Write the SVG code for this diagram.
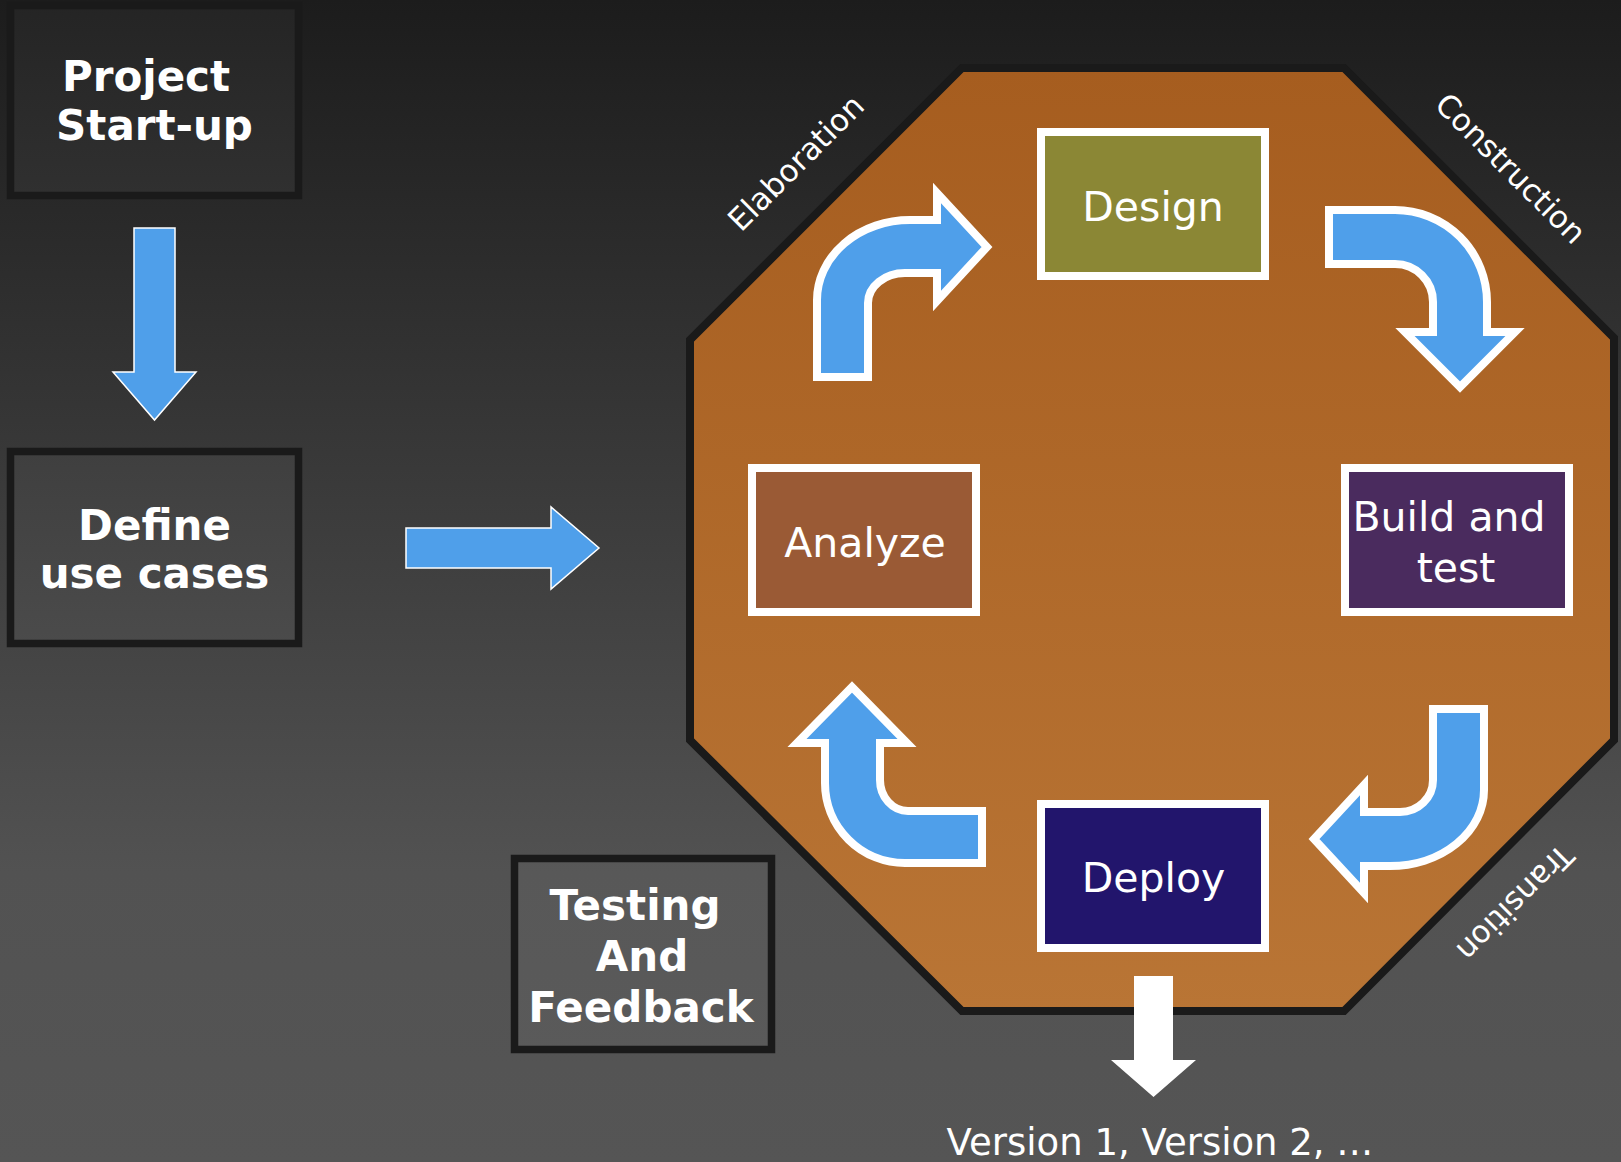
<svg xmlns="http://www.w3.org/2000/svg" width="1621" height="1162" viewBox="0 0 1621 1162">
  <defs>
    <linearGradient id="bg" x1="0" y1="0" x2="0" y2="1">
      <stop offset="0" stop-color="#1c1c1c"/>
      <stop offset="0.75" stop-color="#525252"/>
      <stop offset="1" stop-color="#555555"/>
    </linearGradient>
    <linearGradient id="octFill" x1="0" y1="0" x2="0" y2="1">
      <stop offset="0" stop-color="#a65d1f"/>
      <stop offset="1" stop-color="#b97535"/>
    </linearGradient>
    <style>
      .step { fill: #ffffff; fill-opacity: 0.04; stroke: #1a1a1a; stroke-width: 7.5; }
      .stepText { font-family: "DejaVu Sans", Verdana, sans-serif; font-weight: bold; font-size: 42px; fill: #ffffff; text-anchor: middle; }
      .phase { fill: #ffffff; stroke: #ffffff; stroke-width: 8; }
      .phaseText { font-family: "DejaVu Sans", Verdana, sans-serif; font-size: 41px; fill: #ffffff; text-anchor: middle; }
      .edgeLabel { font-family: "DejaVu Sans", Verdana, sans-serif; font-size: 31px; fill: #ffffff; text-anchor: middle; }
      .flat { fill: #4f9fea; stroke: #ffffff; stroke-width: 1.5; stroke-linejoin: miter; }
      .bent { fill: #4f9fea; stroke: #ffffff; stroke-width: 8; stroke-linejoin: miter; stroke-miterlimit: 10; }
    </style>
  </defs>

  <!-- background -->
  <rect x="0" y="0" width="1621" height="1162" fill="url(#bg)"/>

  <!-- iteration octagon -->
  <g id="iteration-cycle">
    <polygon points="962,68 1344,68 1614,338 1614,740 1344,1011 962,1011 690,740 690,340"
             fill="url(#octFill)" stroke="#1a1a1a" stroke-width="8"/>
    <text class="edgeLabel" transform="translate(803.5 170.5) rotate(-45)">Elaboration</text>
    <text class="edgeLabel" transform="translate(1503 176) rotate(45)">Construction</text>
    <text class="edgeLabel" transform="translate(1507.5 895.5) rotate(135)">Transition</text>
  </g>

  <!-- left-hand steps -->
  <g id="project-startup">
    <rect class="step" x="10.5" y="5.5" width="288" height="190"/>
    <text class="stepText" x="146" y="91">Project</text>
    <text class="stepText" x="154.5" y="140">Start-up</text>
  </g>
  <g id="define-use-cases">
    <rect class="step" x="10.5" y="451.5" width="288" height="192"/>
    <text class="stepText" x="154.5" y="540">Define</text>
    <text class="stepText" x="154.5" y="588">use cases</text>
  </g>
  <g id="testing-feedback">
    <rect class="step" x="514.5" y="858.5" width="257" height="191"/>
    <text class="stepText" x="635" y="920">Testing</text>
    <text class="stepText" x="642" y="971">And</text>
    <text class="stepText" x="641" y="1022">Feedback</text>
  </g>

  <!-- phases inside the cycle -->
  <g id="design">
    <rect class="phase" x="1041" y="132" width="224" height="144" style="fill:#8b8735"/>
    <text class="phaseText" x="1153" y="221">Design</text>
  </g>
  <g id="build-and-test">
    <rect class="phase" x="1345" y="468" width="224" height="144" style="fill:#4a2b5e"/>
    <text class="phaseText" x="1449" y="531">Build and</text>
    <text class="phaseText" x="1456" y="582">test</text>
  </g>
  <g id="deploy">
    <rect class="phase" x="1041" y="804" width="224" height="144" style="fill:#22156c"/>
    <text class="phaseText" x="1153.5" y="892">Deploy</text>
  </g>
  <g id="analyze">
    <rect class="phase" x="752" y="468" width="224" height="144" style="fill:#9a5a35"/>
    <text class="phaseText" x="865" y="557">Analyze</text>
  </g>

  <!-- connectors -->
  <g id="connectors">
    <path class="flat" d="M134 228 H175 V372 H196 L154.5 420 L113 372 H134 Z"/>
    <path class="flat" d="M406 528 H551 V507 L599 548 L551 589 V568 H406 Z"/>
    <!-- analyze to design -->
    <path class="bent" d="M817 377 L817 300 A93 80 0 0 1 910 220 L937 220 L937 193 L987 247 L937 301 L937 273 L905 273 A37 30 0 0 0 868 303 L868 377 Z"/>
    <!-- design to build -->
    <path class="bent" d="M1329 210 L1395 210 A92 92 0 0 1 1487 302 L1487 332 L1515 332 L1460 387 L1405 332 L1433 332 L1433 302 A38 38 0 0 0 1395 264 L1329 264 Z"/>
    <!-- build to deploy -->
    <path class="bent" d="M1433 709 L1484 709 L1484 790 A94 76 0 0 1 1390 866 L1364 866 L1364 893 L1314 839 L1364 785 L1364 812 L1400 812 A33 32 0 0 0 1433 780 Z"/>
    <!-- deploy to analyze -->
    <path class="bent" d="M982 811 L982 863 L905 863 A80 80 0 0 1 825 783 L825 743 L797 743 L852 687 L907 743 L880 743 L880 780 A28 31 0 0 0 908 811 Z"/>
    <!-- release output -->
    <path fill="#ffffff" d="M1134 976 H1173 V1060 H1196 L1153.5 1097 L1111 1060 H1134 Z"/>
  </g>

  <text class="phaseText" style="font-size:37px" x="1160" y="1155">Version 1, Version 2, …</text>
</svg>
